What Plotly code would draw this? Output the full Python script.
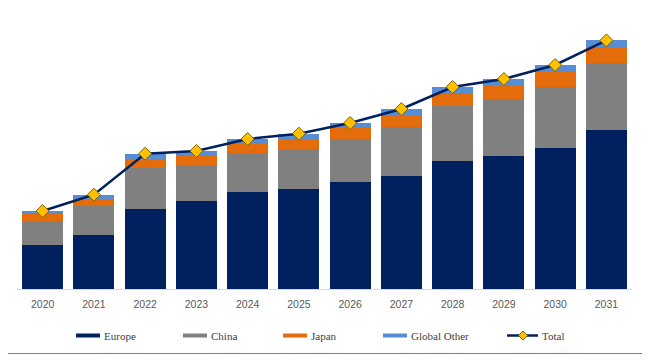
import plotly.graph_objects as go

years = ["2020", "2021", "2022", "2023", "2024", "2025", "2026", "2027", "2028", "2029", "2030", "2031"]
europe = [43.6, 54.3, 80.0, 88.0, 97.0, 100.3, 107.0, 113.3, 128.0, 133.3, 141.3, 159.3]
china = [24.7, 29.0, 41.3, 35.6, 39.0, 39.7, 43.0, 48.7, 54.6, 57.0, 60.7, 66.7]
japan = [7.0, 6.7, 8.7, 10.0, 9.3, 10.3, 11.0, 12.3, 12.7, 13.3, 14.6, 15.3]
global_other = [2.7, 4.3, 5.3, 4.4, 4.7, 5.0, 5.0, 5.7, 6.7, 6.4, 7.4, 7.3]
total = [round(a + b + c + d, 1) for a, b, c, d in zip(europe, china, japan, global_other)]

series_names = ["Europe", "China", "Japan", "Global Other"]
series_colors = ["#002060", "#808080", "#E46C0A", "#558ED5"]
line_color = "#002060"
marker_color = "#FFC000"

# page body has an 8px default margin; figure sized to fit the 650x362 window
OFF = 8
W, H = 650 - 2 * OFF, 362 - 2 * OFF
PLOT_L, PLOT_R, PLOT_T, PLOT_B = 17, 632, 20, 289  # page-pixel plot box
ML = PLOT_L - OFF
MR = W - (PLOT_R - OFF)
MT = PLOT_T - OFF
MB = H - (PLOT_B - OFF)
PW = W - ML - MR
PH = H - MT - MB


def px_x(x):
    return (x - OFF - ML) / PW


def px_y(y):
    return (MT + PH - (y - OFF)) / PH


fig = go.Figure()
for name, vals, col in zip(series_names, [europe, china, japan, global_other], series_colors):
    fig.add_trace(go.Bar(x=years, y=vals, name=name, marker=dict(color=col, line=dict(width=0)),
                         showlegend=False))

fig.add_trace(go.Scatter(x=years, y=total, name="Total", mode="lines+markers",
                         line=dict(color=line_color, width=2.5),
                         marker=dict(symbol="diamond", size=10, color=marker_color,
                                     line=dict(color="#7F6000", width=1)),
                         showlegend=False))

shapes = []
annotations = []
legend_font = dict(family="Liberation Serif, Times New Roman, serif", size=11, color="#404040")
ly = 335.5
swatch_x = [76, 183, 283, 383]
for name, col, sx in zip(series_names, series_colors, swatch_x):
    shapes.append(dict(type="rect", xref="paper", yref="paper",
                       x0=px_x(sx), x1=px_x(sx + 24), y0=px_y(ly + 2), y1=px_y(ly - 2),
                       fillcolor=col, line=dict(width=0)))
    annotations.append(dict(text=name, xref="paper", yref="paper", x=px_x(sx + 25.5), y=px_y(ly),
                            xanchor="left", yanchor="middle", showarrow=False, font=legend_font))
# Total legend entry
shapes.append(dict(type="line", xref="paper", yref="paper", x0=px_x(507), x1=px_x(538),
                   y0=px_y(ly), y1=px_y(ly), line=dict(color=line_color, width=2.5)))
cx, cy, r = 523, ly, 4.5
path = "M {},{} L {},{} L {},{} L {},{} Z".format(
    px_x(cx), px_y(cy - r), px_x(cx + r), px_y(cy), px_x(cx), px_y(cy + r), px_x(cx - r), px_y(cy))
shapes.append(dict(type="path", xref="paper", yref="paper", path=path,
                   fillcolor=marker_color, line=dict(color="#7F6000", width=1)))
annotations.append(dict(text="Total", xref="paper", yref="paper", x=px_x(539.5), y=px_y(ly),
                        xanchor="left", yanchor="middle", showarrow=False, font=legend_font))
# bottom border line (drawn as high as the figure area allows)
shapes.append(dict(type="rect", xref="paper", yref="paper", x0=px_x(OFF), x1=px_x(650 - OFF),
                   y0=px_y(356), y1=px_y(353.5), fillcolor="#000000", line=dict(width=0)))

fig.update_layout(
    width=W, height=H,
    margin=dict(l=ML, r=MR, t=MT, b=MB, autoexpand=False),
    barmode="stack", bargap=0.2,
    plot_bgcolor="white", paper_bgcolor="white",
    shapes=shapes, annotations=annotations,
    showlegend=False,
    xaxis=dict(range=[-0.5, len(years) - 0.5], showline=True, linecolor="#D9D9D9", linewidth=1,
               ticks="", showgrid=False, automargin=False, ticklabelstandoff=5,
               tickfont=dict(family="Liberation Sans, Arial, sans-serif", size=10.5, color="#595959")),
    yaxis=dict(range=[0, PH], visible=False, showgrid=False, zeroline=False),
)

fig.write_html("out.html")
